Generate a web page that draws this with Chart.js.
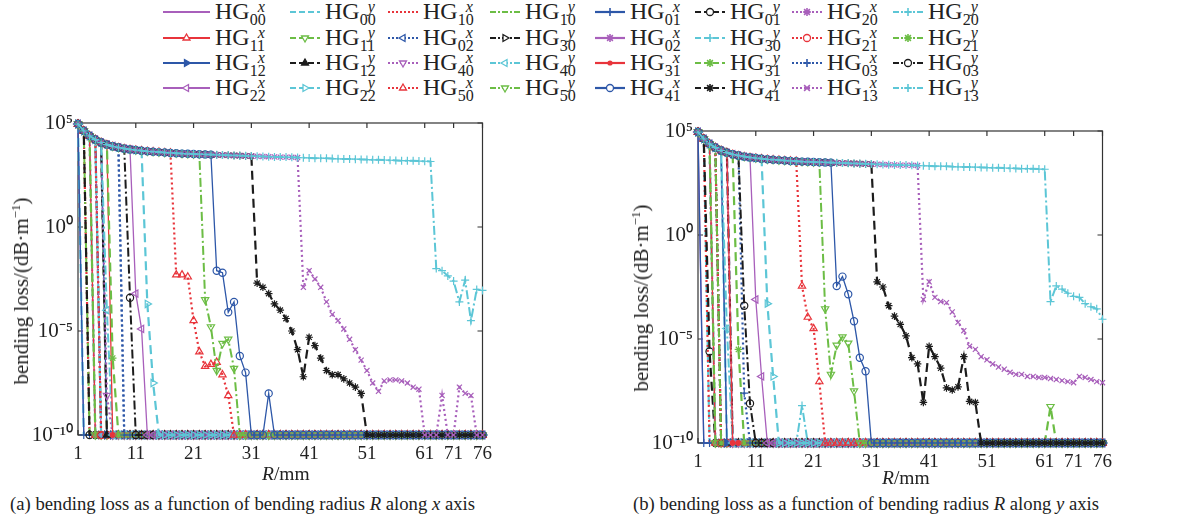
<!DOCTYPE html>
<html>
<head>
<meta charset="utf-8">
<script src="https://cdn.jsdelivr.net/npm/chart.js@4.4.0/dist/chart.umd.min.js"></script>
<style>
  body { margin: 0; background: #fff; width: 1179px; height: 523px; position: relative; overflow: hidden;
         font-family: "Liberation Serif", "Times New Roman", serif; color: #222; }
  canvas { position: absolute; }
  .item { position: absolute; height: 24px; display: flex; align-items: center; }
  .item svg { display: block; }
  .lbl { font-size: 24px; margin-left: 5px; white-space: nowrap; line-height: 24px; }
  .ss { display: inline-block; vertical-align: -6px; font-size: 16px; line-height: 13px; }
  .ss span { display: block; }
  .ss .sp { font-style: italic; margin-left: 8px; }
  .xlab { position: absolute; font-size: 19.5px; white-space: nowrap; }
  .ylab { position: absolute; font-size: 21px; white-space: nowrap; transform: translate(-50%, -50%) rotate(-90deg); }
  .cap { position: absolute; font-size: 18.7px; white-space: nowrap; }
</style>
</head>
<body>
<div id="legend"></div>
<canvas id="chartA" width="500" height="375" style="left:0;top:100px"></canvas>
<canvas id="chartB" width="500" height="375" style="left:620px;top:108px"></canvas>
<div class="ylab" style="left:21px;top:291px">bending loss/(dB·m<sup style="font-size:13px">−1</sup>)</div>
<div class="ylab" style="left:641px;top:298px">bending loss/(dB·m<sup style="font-size:13px">−1</sup>)</div>
<div class="xlab" style="left:262px;top:463px"><i>R</i>/mm</div>
<div class="xlab" style="left:882px;top:467px"><i>R</i>/mm</div>
<div class="cap" style="left:10px;top:493px">(a) bending loss as a function of bending radius <i>R</i> along <i>x</i> axis</div>
<div class="cap" style="left:633px;top:493px">(b) bending loss as a function of bending radius <i>R</i> along <i>y</i> axis</div>
<script>
// legend labels HG_{sub}^{sup}
const modeSub = ['00','00','10','10','01','01','20','20',
                 '11','11','02','30','02','30','21','21',
                 '12','12','40','40','31','31','03','03',
                 '22','22','50','50','41','41','13','13'];
const modeSup = ['x','y','x','y','x','y','x','y',
                 'x','y','x','y','x','y','x','y',
                 'x','y','x','y','x','y','x','y',
                 'x','y','x','y','x','y','x','y'];
const markers = ['', '', '', '', '+', 'o', '*', '+',
                 '^', 'v', '<', '>', '*', '+', 'o', '*',
                 '>', '^', 'v', '<', '.', '*', '+', 'o',
                 '<', '>', '^', 'v', 'o', '*', 'x', '+'];
const filledIdx = [16, 17, 20];

// x axis: sample index 1..71, tick labels are R in mm
const xTickPos = [1, 11, 21, 31, 41, 51, 61, 66, 71];
const xTickText = ['1', '11', '21', '31', '41', '51', '61', '71', '76'];
const yTickVals = [1e5, 1, 1e-5, 1e-10];
const yTickText = ['10\u2075', '10\u2070', '10\u207B\u2075', '10\u207B\u00B9\u2070'];

// log10 of the common upper curve, samples 1..71
const envelopeLog = [
  4.95, 4.62, 4.38, 4.20, 4.06, 3.96, 3.88, 3.82, 3.77, 3.73,
  3.70, 3.67, 3.64, 3.62, 3.60, 3.58, 3.56, 3.55, 3.53, 3.52,
  3.51, 3.50, 3.49, 3.48, 3.47, 3.46, 3.45, 3.44, 3.43, 3.42,
  3.41, 3.40, 3.39, 3.38, 3.37, 3.36, 3.36, 3.35, 3.34, 3.33,
  3.32, 3.31, 3.31, 3.30, 3.29, 3.28, 3.27, 3.27, 3.26, 3.25,
  3.24, 3.23, 3.23, 3.22, 3.21, 3.20, 3.19, 3.19, 3.18, 3.17,
  3.16, 3.15, 3.14, 3.14, 3.13, 3.12, 3.11, 3.10, 3.10, 3.09,
  3.08
];
const FLOOR = -10;

// (a) x direction: last sample on the upper curve, then the values after it (log10)
const cutA = [1, 1, 2, 2, 1, 2, 3, 3,
              3, 3, 8, 4, 4, 4, 4, 5,
              5, 5, 5, 5, 6, 6, 8, 9,
              10, 12, 17, 22, 24, 31, 39, 62];
const tailA = [[], [], [], [], [], [], [], [],
  [], [], [], [], [], [], [], [],
  [], [], [-8.1], [-4.0], [], [-6.3], [], [-3.4],
  [-3.2, -4.9],
  [-3.7, -7.5],
  [-2.3, -2.3, -2.4, -4.5, -6.0, -6.7, -6.6, -6.5, -7.1, -8.1],
  [-3.5, -4.8, -6.9, -5.6, -5.4, -6.8],
  [-2.1, -2.2, -4.1, -3.6, -6.2, -7.0, -10, -10, -10, -8.0],
  [-2.7, -2.9, -3.2, -3.7, -4.0, -4.4, -5.0, -5.9, -7.2, -5.3, -5.7, -6.3, -6.9, -7.1, -7.1, -7.3, -7.5, -7.7, -8.0],
  [-2.9, -2.1, -2.5, -2.9, -3.6, -4.2, -4.5, -4.9, -5.4, -5.9, -6.4, -6.9, -7.5, -7.9, -7.4, -7.35, -7.35, -7.4, -7.5, -7.7, -7.8,
   -10, -10, -10, -8.1, -10, -10, -7.7, -8.0, -8.1],
  [-2.0, -2.1, -2.35, -2.6, -3.6, -2.55, -4.5, -3.0, -3.05]
];
const spikesA = [];

// (b) y direction
const cutB = [1, 2, 2, 3, 1, 2, 3, 3,
              3, 3, 4, 4, 5, 5, 4, 4,
              5, 6, 6, 5, 6, 7, 8, 8,
              10, 12, 18, 22, 24, 31, 39, 61];
const tailB = [[], [], [], [], [], [-5.6], [], [],
  [], [], [], [], [], [], [], [],
  [], [], [], [-4.5], [], [-5.5], [-7.6], [-3.4, -8.1],
  [-3.1, -6.8],
  [-3.3, -6.8],
  [-2.45, -3.95, -4.5, -7.05],
  [-3.55, -6.7, -5.3, -4.9, -5.2, -7.5],
  [-2.45, -2.0, -2.85, -4.15, -5.9, -6.55],
  [-2.25, -2.5, -3.4, -3.9, -4.3, -4.85, -5.9, -6.2, -8.05, -5.35, -5.85, -6.4, -7.35, -7.45, -7.3, -5.85, -8.0, -8.05],
  [-3.1, -2.25, -3.0, -3.2, -3.25, -3.7, -4.2, -4.6, -5.35, -5.5, -5.85, -6.0, -6.2, -6.35, -6.45, -6.6,
   -6.7, -6.7, -6.8, -6.8, -6.85, -6.85, -6.9, -6.95, -7.0, -7.05, -7.1, -6.8, -6.85, -6.95, -7.05, -7.1],
  [-3.2, -2.45, -2.6, -2.8, -2.95, -3.0, -3.3, -3.45, -3.55, -4.05]
];
const spikesB = [[7, 19, -8.2], [9, 62, -8.25]];

const palette = ['#A85FBB', '#5CC6D6', '#E8343B', '#6CBD45', '#2D57A8', '#1c1c1c'];
const lineStyles = ['-', '--', ':', '-.'];
const dashOf = { '-': [], '--': [9, 5], ':': [2, 3], '-.': [9, 3, 2, 3] };
const widthOf = { '-': 1.3, '--': 2.2, ':': 2.2, '-.': 2 };

function colorOf(i) { return palette[i % 6]; }
function styleOf(i) { return lineStyles[i % 4]; }

function buildValues(i, cuts, tails, spikes) {
  const out = [];
  for (let k = 0; k < envelopeLog.length; k++) {
    const idx = k + 1;
    const j = idx - cuts[i] - 1;
    if (idx <= cuts[i]) out.push(envelopeLog[k]);
    else if (j < tails[i].length) out.push(tails[i][j]);
    else out.push(FLOOR);
  }
  spikes.forEach(s => { if (s[0] === i) out[s[1] - 1] = s[2]; });
  return out;
}

function pointOpts(m) {
  switch (m) {
    case 'o': return { pointStyle: 'circle', pointRadius: 3.6, pointRotation: 0 };
    case '.': return { pointStyle: 'circle', pointRadius: 2.4, pointRotation: 0 };
    case '+': return { pointStyle: 'cross', pointRadius: 4, pointRotation: 0 };
    case 'x': return { pointStyle: 'crossRot', pointRadius: 3.6, pointRotation: 0 };
    case '*': return { pointStyle: 'star', pointRadius: 3.8, pointRotation: 0 };
    case '^': return { pointStyle: 'triangle', pointRadius: 4.2, pointRotation: 0 };
    case 'v': return { pointStyle: 'triangle', pointRadius: 4.2, pointRotation: 180 };
    case '>': return { pointStyle: 'triangle', pointRadius: 4.2, pointRotation: 90 };
    case '<': return { pointStyle: 'triangle', pointRadius: 4.2, pointRotation: 270 };
    default: return { pointStyle: 'circle', pointRadius: 0, pointRotation: 0 };
  }
}

const boxPlugin = {
  id: 'box',
  beforeDatasetsDraw(chart) {
    const { ctx, chartArea: a, scales } = chart;
    ctx.save();
    ctx.strokeStyle = '#333';
    ctx.lineWidth = 1.2;
    ctx.strokeRect(a.left, a.top, a.right - a.left, a.bottom - a.top);
    ctx.beginPath();
    xTickPos.forEach(v => {
      const px = scales.x.getPixelForValue(v);
      ctx.moveTo(px, a.bottom); ctx.lineTo(px, a.bottom - 5);
      ctx.moveTo(px, a.top); ctx.lineTo(px, a.top + 5);
    });
    yTickVals.forEach(v => {
      const py = scales.y.getPixelForValue(v);
      ctx.moveTo(a.left, py); ctx.lineTo(a.left + 5, py);
      ctx.moveTo(a.right, py); ctx.lineTo(a.right - 5, py);
    });
    ctx.stroke();
    ctx.restore();
  }
};

function makeChart(id, cuts, tails, spikes) {
  const n = modeSub.length;
  const datasets = modeSub.map((sub, i) => {
    const col = colorOf(i), st = styleOf(i);
    const vals = buildValues(i, cuts, tails, spikes);
    const filled = filledIdx.includes(i) || markers[i] === '.';
    return Object.assign({
      label: 'HG' + sub + modeSup[i],
      data: vals.map((v, k) => ({ x: k + 1, y: Math.pow(10, v) })),
      borderColor: col,
      borderWidth: widthOf[st],
      borderDash: dashOf[st],
      pointBorderColor: col,
      pointBackgroundColor: filled ? col : 'rgba(255,255,255,0)',
      pointBorderWidth: 1.2,
      tension: 0,
      clip: false,
      order: n - i
    }, pointOpts(markers[i]));
  });

  return new Chart(document.getElementById(id), {
    type: 'line',
    data: { datasets },
    plugins: [boxPlugin],
    options: {
      responsive: false,
      animation: false,
      events: [],
      layout: { padding: { left: 0, right: 16, top: 23, bottom: 0 } },
      plugins: { legend: { display: false }, tooltip: { enabled: false } },
      scales: {
        x: {
          type: 'linear', min: 1, max: 71,
          grid: { display: false, drawTicks: false },
          border: { display: false },
          afterBuildTicks: s => { s.ticks = xTickPos.map(v => ({ value: v })); },
          afterFit: s => { s.height = 40; },
          ticks: {
            autoSkip: false, maxRotation: 0, padding: 8, color: '#222',
            font: { family: 'Liberation Serif', size: 19 },
            callback: v => xTickText[xTickPos.indexOf(v)]
          }
        },
        y: {
          type: 'logarithmic', min: 1e-10, max: 1e5,
          grid: { display: false, drawTicks: false },
          border: { display: false },
          afterBuildTicks: s => { s.ticks = yTickVals.map(v => ({ value: v })); },
          afterFit: s => { s.width = 78; },
          ticks: {
            padding: 5, color: '#222',
            font: { family: 'Liberation Serif', size: 21 },
            callback: v => {
              const k = yTickVals.findIndex(t => Math.abs(Math.log10(t) - Math.log10(v)) < 1e-6);
              return k >= 0 ? yTickText[k] : '';
            }
          }
        }
      }
    }
  });
}

makeChart('chartA', cutA, tailA, spikesA);
makeChart('chartB', cutB, tailB, spikesB);

// legend (shared by both panels)
const legX = [163, 290, 388, 490, 595, 695, 792, 893];
const legY = [12, 38, 63, 88];
const svgDash = { '-': '', '--': '6 3', ':': '2 2', '-.': '6 2 2 2' };

function markerSvg(m, col, filled, cx, cy) {
  const f = filled ? col : '#fff';
  const sw = 1.3;
  if (m === 'o') return `<circle cx="${cx}" cy="${cy}" r="3.5" fill="${f}" stroke="${col}" stroke-width="${sw}"/>`;
  if (m === '.') return `<circle cx="${cx}" cy="${cy}" r="2.6" fill="${col}"/>`;
  const r = 4;
  if (m === '+') return `<path d="M${cx - r} ${cy}H${cx + r}M${cx} ${cy - r}V${cy + r}" stroke="${col}" stroke-width="1.6"/>`;
  const d = r * 0.72;
  const xp = `M${cx - d} ${cy - d}L${cx + d} ${cy + d}M${cx + d} ${cy - d}L${cx - d} ${cy + d}`;
  if (m === 'x') return `<path d="${xp}" stroke="${col}" stroke-width="1.6"/>`;
  if (m === '*') return `<path d="M${cx - r} ${cy}H${cx + r}M${cx} ${cy - r}V${cy + r}${xp}" stroke="${col}" stroke-width="1.6"/>`;
  const rot = { '^': 0, 'v': 180, '>': 90, '<': 270 }[m];
  if (rot === undefined) return '';
  const pts = `${cx},${cy - r} ${cx + r * 0.87},${cy + r / 2} ${cx - r * 0.87},${cy + r / 2}`;
  return `<polygon points="${pts}" transform="rotate(${rot} ${cx} ${cy})" fill="${f}" stroke="${col}" stroke-width="${sw}"/>`;
}

const legend = document.getElementById('legend');
modeSub.forEach((sub, i) => {
  const row = Math.floor(i / 8), c = i % 8;
  const w = c === 0 ? 47 : 30;
  const col = colorOf(i), st = styleOf(i);
  const filled = filledIdx.includes(i);
  const div = document.createElement('div');
  div.className = 'item';
  div.style.left = legX[c] + 'px';
  div.style.top = (legY[row] - 12) + 'px';
  const dash = svgDash[st] ? ` stroke-dasharray="${svgDash[st]}"` : '';
  div.innerHTML =
    `<svg width="${w}" height="14"><line x1="0" y1="7" x2="${w}" y2="7" stroke="${col}" stroke-width="2.2"${dash}/>` +
    markerSvg(markers[i], col, filled, w / 2, 7) + `</svg>` +
    `<span class="lbl">HG<span class="ss"><span class="sp">${modeSup[i]}</span><span class="sb">${sub}</span></span></span>`;
  legend.appendChild(div);
});
</script>
</body>
</html>
